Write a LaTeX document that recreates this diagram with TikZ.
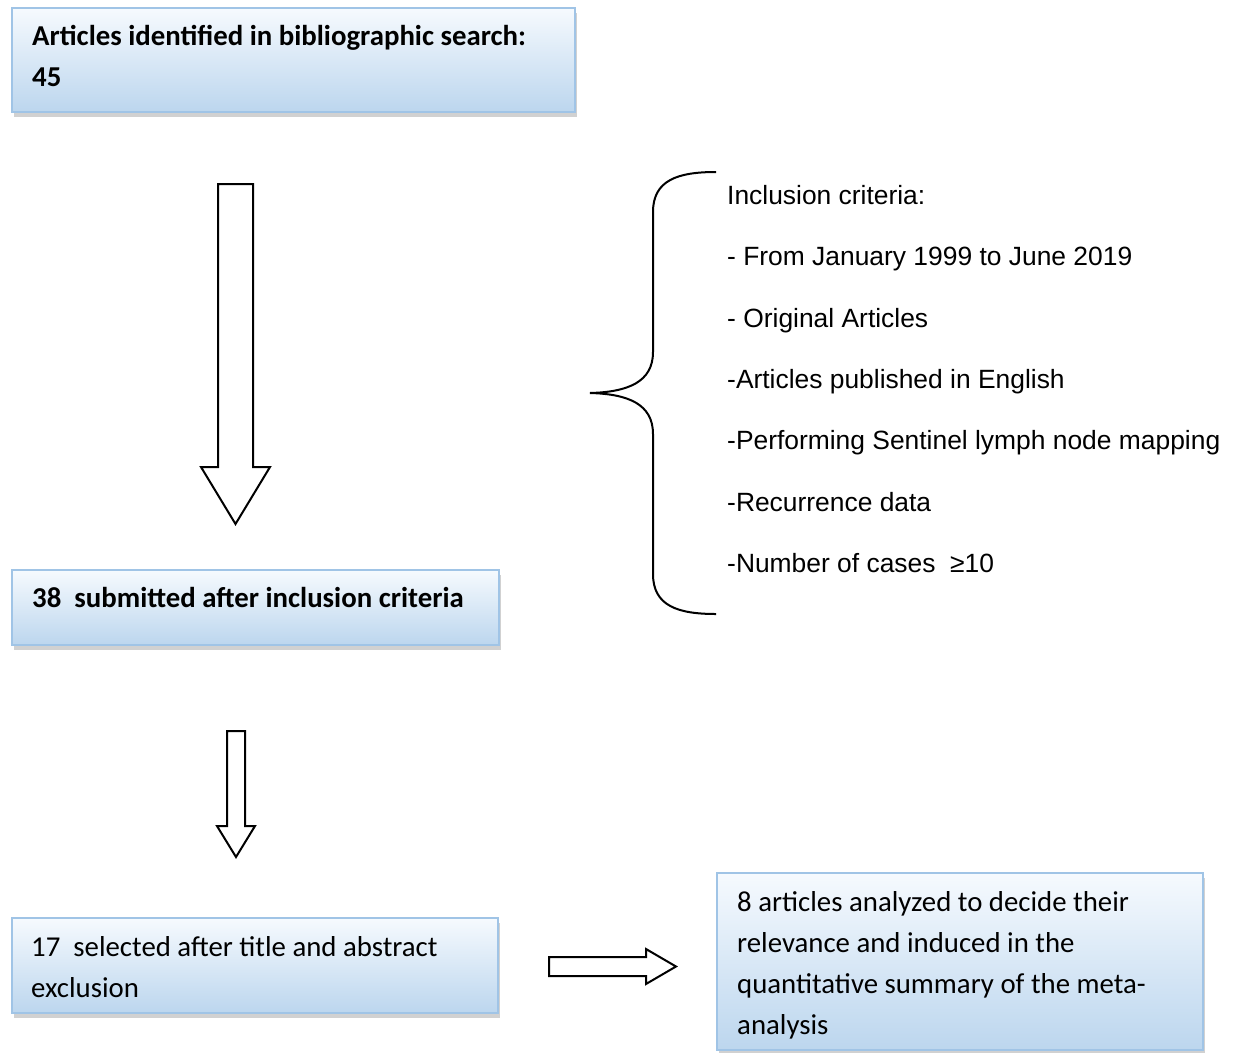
\documentclass[tikz,border=0pt]{standalone}
\usepackage{fontspec}
\setmainfont{Carlito}
\newfontfamily\critfont{Liberation Sans}
\usetikzlibrary{shadows}
\definecolor{boxtop}{RGB}{246,250,254}
\definecolor{boxbot}{RGB}{188,214,238}
\definecolor{boxline}{RGB}{160,196,230}
\tikzset{
  box/.style={draw=boxline, line width=1.5pt, top color=boxtop, bottom color=boxbot,
    drop shadow={shadow xshift=2pt, shadow yshift=-5pt, opacity=0.3, fill=black!60}},
  boxtxt/.style={anchor=base west, inner sep=0pt, align=left},
  bold/.style={font=\fontsize{28.8}{41}\selectfont\bfseries},
  reg/.style={font=\fontsize{28.8}{41}\selectfont},
  crit/.style={anchor=base west, inner sep=0pt, font=\critfont\fontsize{26.4}{30}\selectfont},
  blockarrow/.style={draw=black, line width=2pt, fill=white, line join=miter},
}
\begin{document}
\begin{tikzpicture}[x=1pt,y=-1pt]
\useasboundingbox (0,0) rectangle (1238,1052);
% boxes
\path[box] (12,8) rectangle (575,112);
\node[boxtxt, bold] (t1) at (32,86) {Articles identified in bibliographic search:\\45};
\path[box] (12,570) rectangle (499,645);
\node[boxtxt, bold] (t2) at (32,607) {38\ \ submitted after inclusion criteria};
\path[box] (12,918) rectangle (498,1013);
\node[boxtxt, reg] (t3) at (31,997) {17\ \ selected after title and abstract\\exclusion};
\path[box] (717,873) rectangle (1203,1050);
\node[boxtxt, reg] (t4) at (737,1034) {8 articles analyzed to decide their\\relevance and induced in the\\quantitative summary of the meta-\\analysis};
% block arrows
\draw[blockarrow] (218,184) -- (253,184) -- (253,467) -- (270,467) -- (235.5,524) -- (201,467) -- (218,467) -- cycle;
\draw[blockarrow] (227,731) -- (245,731) -- (245,826) -- (255,826) -- (236,857) -- (217,826) -- (227,826) -- cycle;
\draw[blockarrow] (549,957) -- (646,957) -- (646,949) -- (676,966.5) -- (646,984) -- (646,976) -- (549,976) -- cycle;
% brace
\draw[line width=2pt] (716,172) .. controls (678,172) and (653,180) .. (653,212) -- (653,352)
  .. controls (653,382) and (628,392) .. (590,393)
  .. controls (628,394) and (653,404) .. (653,434) -- (653,574)
  .. controls (653,606) and (678,614) .. (716,614);
% criteria
\node[crit] (c0) at (727,204) {Inclusion criteria:};
\node[crit] (c1) at (727,265) {- From January 1999 to June 2019};
\node[crit] (c2) at (727,327) {- Original Articles};
\node[crit] (c3) at (727,388) {-Articles published in English};
\node[crit] (c4) at (727,449) {-Performing Sentinel lymph node mapping};
\node[crit] (c5) at (727,511) {-Recurrence data};
\node[crit] (c6) at (727,572) {-Number of cases\ \ ≥10};
\end{tikzpicture}
\end{document}
